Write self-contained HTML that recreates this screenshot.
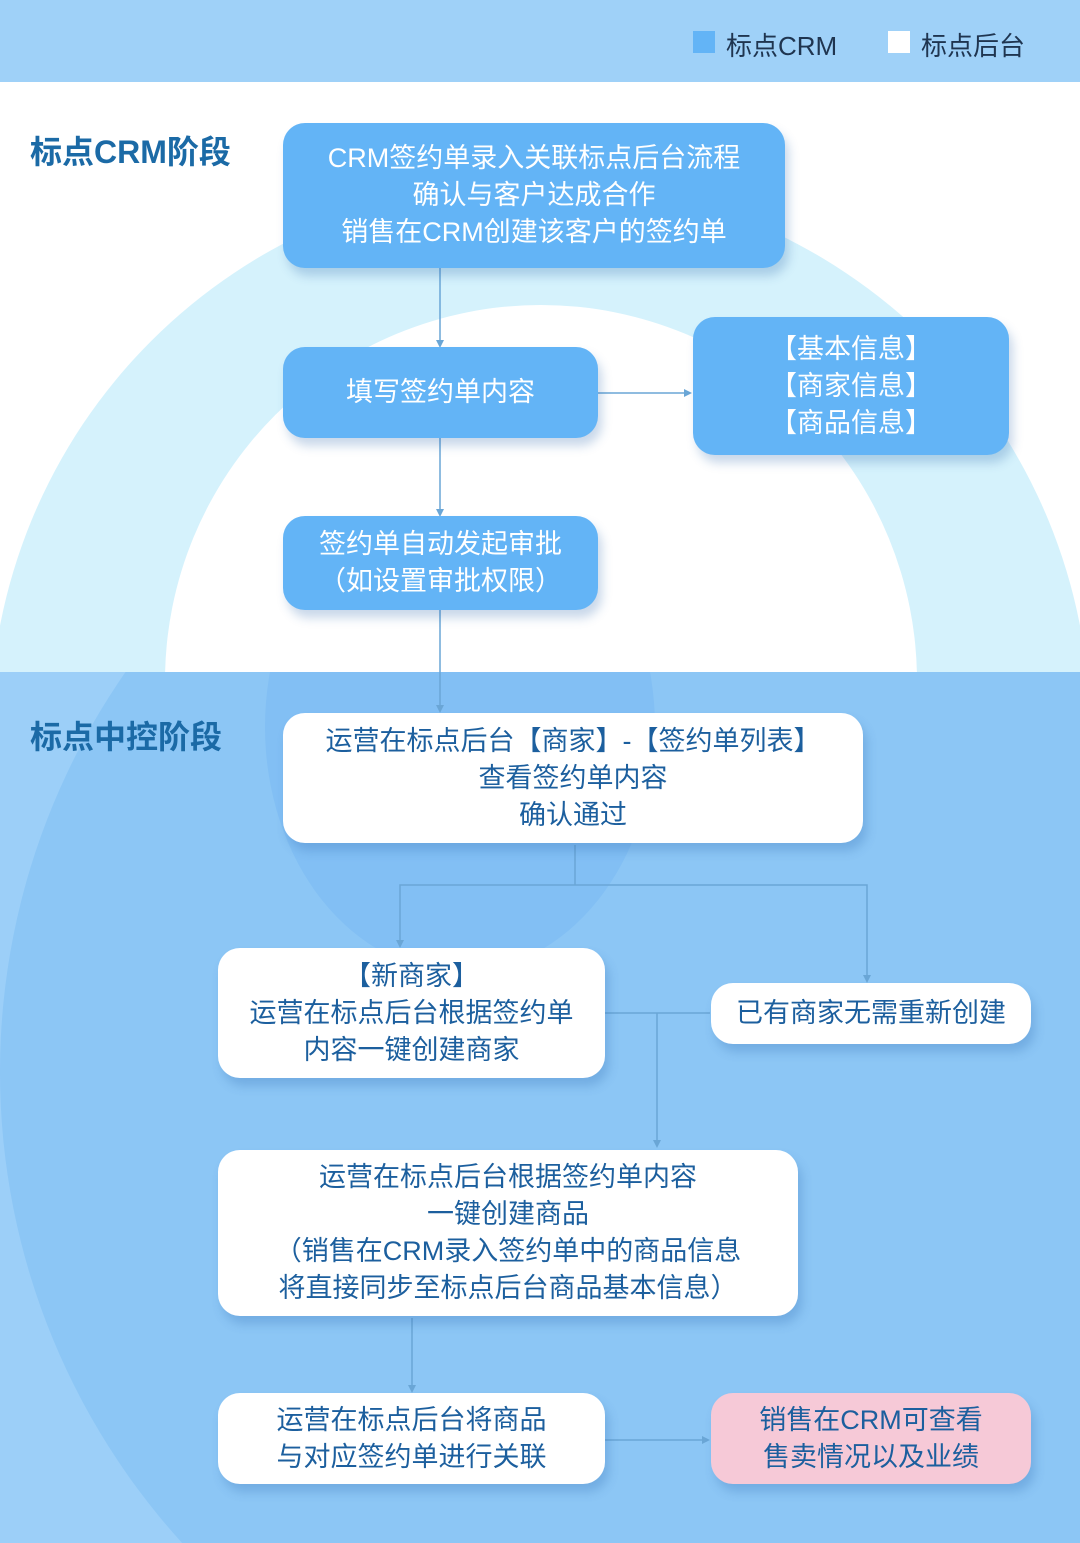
<!DOCTYPE html>
<html><head><meta charset="utf-8"><style>
*{margin:0;padding:0;box-sizing:border-box}
html,body{width:1080px;height:1543px;overflow:hidden}
body{position:relative;background:#fff;font-family:"Liberation Sans","Noto Sans CJK SC",sans-serif}
.abs{position:absolute}
.box{position:absolute;border-radius:22px;display:flex;align-items:center;justify-content:center;text-align:center;font-size:27px;line-height:37px;box-shadow:4px 8px 10px rgba(40,100,170,0.25)}
.b{background:#63b4f6;color:#fff}
.w{background:#fff;color:#1c5f9e}
.p{background:#f6c9d7;color:#1c5f9e}
.title{position:absolute;left:30px;font-size:32px;font-weight:bold;color:#1b6aa6}
</style></head><body>
<div class="abs" style="left:0;top:0;width:1080px;height:82px;background:#9fd1f8"></div>
<div class="abs" style="left:693px;top:31px;width:22px;height:22px;background:#63b4f6"></div>
<div class="abs" style="left:726px;top:26px;font-size:26px;color:#1f3550">标点CRM</div>
<div class="abs" style="left:888px;top:31px;width:22px;height:22px;background:#fff"></div>
<div class="abs" style="left:921px;top:26px;font-size:26px;color:#1f3550">标点后台</div>
<div class="abs" style="left:0;top:82px;width:1080px;height:590px;overflow:hidden">
 <div class="abs" style="left:-10px;top:98px;width:1100px;height:1100px;border-radius:50%;background:#d5f2fc"></div>
 <div class="abs" style="left:165px;top:223px;width:752px;height:752px;border-radius:50%;background:#fff"></div>
</div>
<div class="abs" style="left:0;top:672px;width:1080px;height:871px;overflow:hidden;background:#9ccff8">
 <div class="abs" style="left:0;top:-300px;width:1400px;height:1400px;border-radius:50%;background:#8cc6f5"></div>
 <div class="abs" style="left:265px;top:-190px;width:390px;height:490px;border-radius:50%;background:#82bff4"></div>
</div>
<div class="title" style="top:127px">标点CRM阶段</div>
<div class="title" style="top:712px">标点中控阶段</div>
<svg class="abs" style="left:0;top:0" width="1080" height="1543">
<g stroke="#6aa6d6" stroke-width="1.5" fill="none">
<path d="M440 268V345M440 438V514M440 610V710M598 393H688M575 845V885H400V945M575 885H867V980M605 1013H710M657 1013V1145M412 1318V1390M605 1440H706"/>
</g>
<g fill="#6aa6d6">
<path d="M436 340L440 348L444 340Z"/><path d="M436 509L440 517L444 509Z"/><path d="M436 705L440 713L444 705Z"/>
<path d="M684 389L692 393L684 397Z"/><path d="M396 940L400 948L404 940Z"/><path d="M863 975L867 983L871 975Z"/>
<path d="M653 1140L657 1148L661 1140Z"/><path d="M408 1385L412 1393L416 1385Z"/><path d="M702 1436L710 1440L702 1444Z"/>
</g></svg>
<div class="box b" style="left:283px;top:123px;width:502px;height:145px">CRM签约单录入关联标点后台流程<br>确认与客户达成合作<br>销售在CRM创建该客户的签约单</div>
<div class="box b" style="left:283px;top:347px;width:315px;height:91px">填写签约单内容</div>
<div class="box b" style="left:693px;top:317px;width:316px;height:138px">【基本信息】<br>【商家信息】<br>【商品信息】</div>
<div class="box b" style="left:283px;top:516px;width:315px;height:94px">签约单自动发起审批<br>（如设置审批权限）</div>
<div class="box w" style="left:283px;top:713px;width:580px;height:130px">运营在标点后台【商家】-【签约单列表】<br>查看签约单内容<br>确认通过</div>
<div class="box w" style="left:218px;top:948px;width:387px;height:130px">【新商家】<br>运营在标点后台根据签约单<br>内容一键创建商家</div>
<div class="box w" style="left:711px;top:983px;width:320px;height:61px">已有商家无需重新创建</div>
<div class="box w" style="left:218px;top:1150px;width:580px;height:166px">运营在标点后台根据签约单内容<br>一键创建商品<br>（销售在CRM录入签约单中的商品信息<br>将直接同步至标点后台商品基本信息）</div>
<div class="box w" style="left:218px;top:1393px;width:387px;height:91px">运营在标点后台将商品<br>与对应签约单进行关联</div>
<div class="box p" style="left:711px;top:1393px;width:320px;height:91px">销售在CRM可查看<br>售卖情况以及业绩</div>
</body></html>
